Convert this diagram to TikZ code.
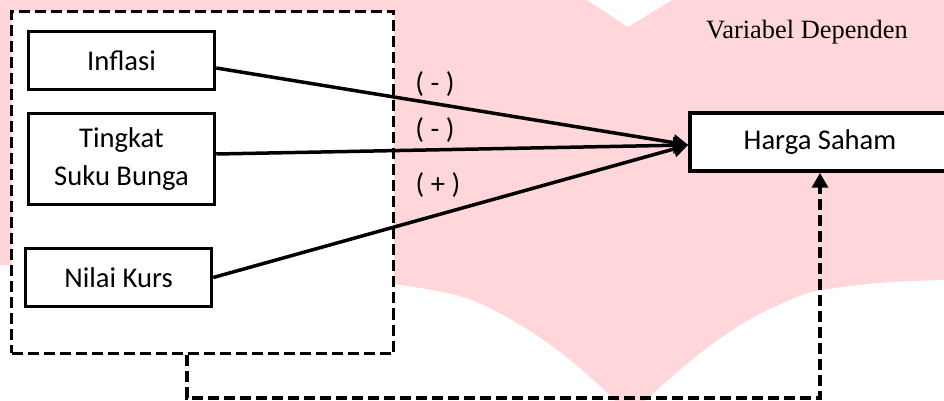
\documentclass[tikz,border=0pt]{standalone}
\usepackage{fontspec}
\setmainfont{Carlito}
\newfontfamily\timesfont{Liberation Serif}
\usetikzlibrary{arrows.meta}
\definecolor{pinkmark}{RGB}{255,215,219}
\begin{document}
\begin{tikzpicture}[x=0.5pt,y=-0.5pt,
    varbox/.style={draw,line width=1.75pt,fill=white,minimum width=93pt,
      minimum height=29pt,align=center,font=\fontsize{14.3}{19}\selectfont},
    signlabel/.style={font=\fontsize{14.3}{17}\selectfont},
    effect/.style={line width=1.75pt,-{Triangle[length=7.5pt,width=8pt]}},
    loopline/.style={line width=1.75pt,dash pattern=on 5.5pt off 2.5pt}]
    \clip (0,0) rectangle (944,401);
    % watermark behind the diagram
    \fill[pinkmark] (0,0) rectangle (944,401);
    \fill[white] (587,0)--(628,27)--(672,0)--cycle;
    \fill[white] (0,265) .. controls (200,268) and (400,275) .. (472,300)
      .. controls (530,325) and (580,365) .. (615,401) -- (0,401) -- cycle;
    \fill[white] (645,401) .. controls (690,360) and (740,315) .. (812,292)
      .. controls (860,283) and (900,281) .. (944,280) -- (944,401) -- cycle;
    % variabel independen
    \node[draw,loopline,fill=white,minimum width=191pt,minimum height=171pt]
      (indep) at (202.5,182.5) {};
    \node[varbox] (inf) at (121.5,60.5) {Inflasi};
    \node[varbox,minimum height=45.5pt] (sb) at (121.5,159) {Tingkat\\Suku Bunga};
    \node[varbox] (kurs) at (118.5,277.5) {Nilai Kurs};
    % variabel dependen
    \node[varbox,minimum width=130pt] (hs) at (820,142) {Harga Saham};
    \node[font=\timesfont\fontsize{13.2}{16}\selectfont] (dep) at (807,32) {Variabel Dependen};
    \draw[effect] ([yshift=-3.75pt]inf.east) -- ([yshift=-1.5pt]hs.west);
    \draw[effect] ([yshift=2.5pt]sb.east) -- ([yshift=-1.5pt]hs.west);
    \draw[effect] (kurs.east) -- ([yshift=-1.5pt]hs.west);
    \node[signlabel] (s1) at (435,84) {( - )};
    \node[signlabel] (s2) at (435,130) {( - )};
    \node[signlabel] (s3) at (438,185) {( + )};
    % simultan
    \coordinate (turn) at (187,398);
    \draw[loopline,-{Triangle[length=7.5pt,width=8pt]}]
      (turn |- indep.south) -- (turn) -| (hs.south);
  \end{tikzpicture}
\end{document}
